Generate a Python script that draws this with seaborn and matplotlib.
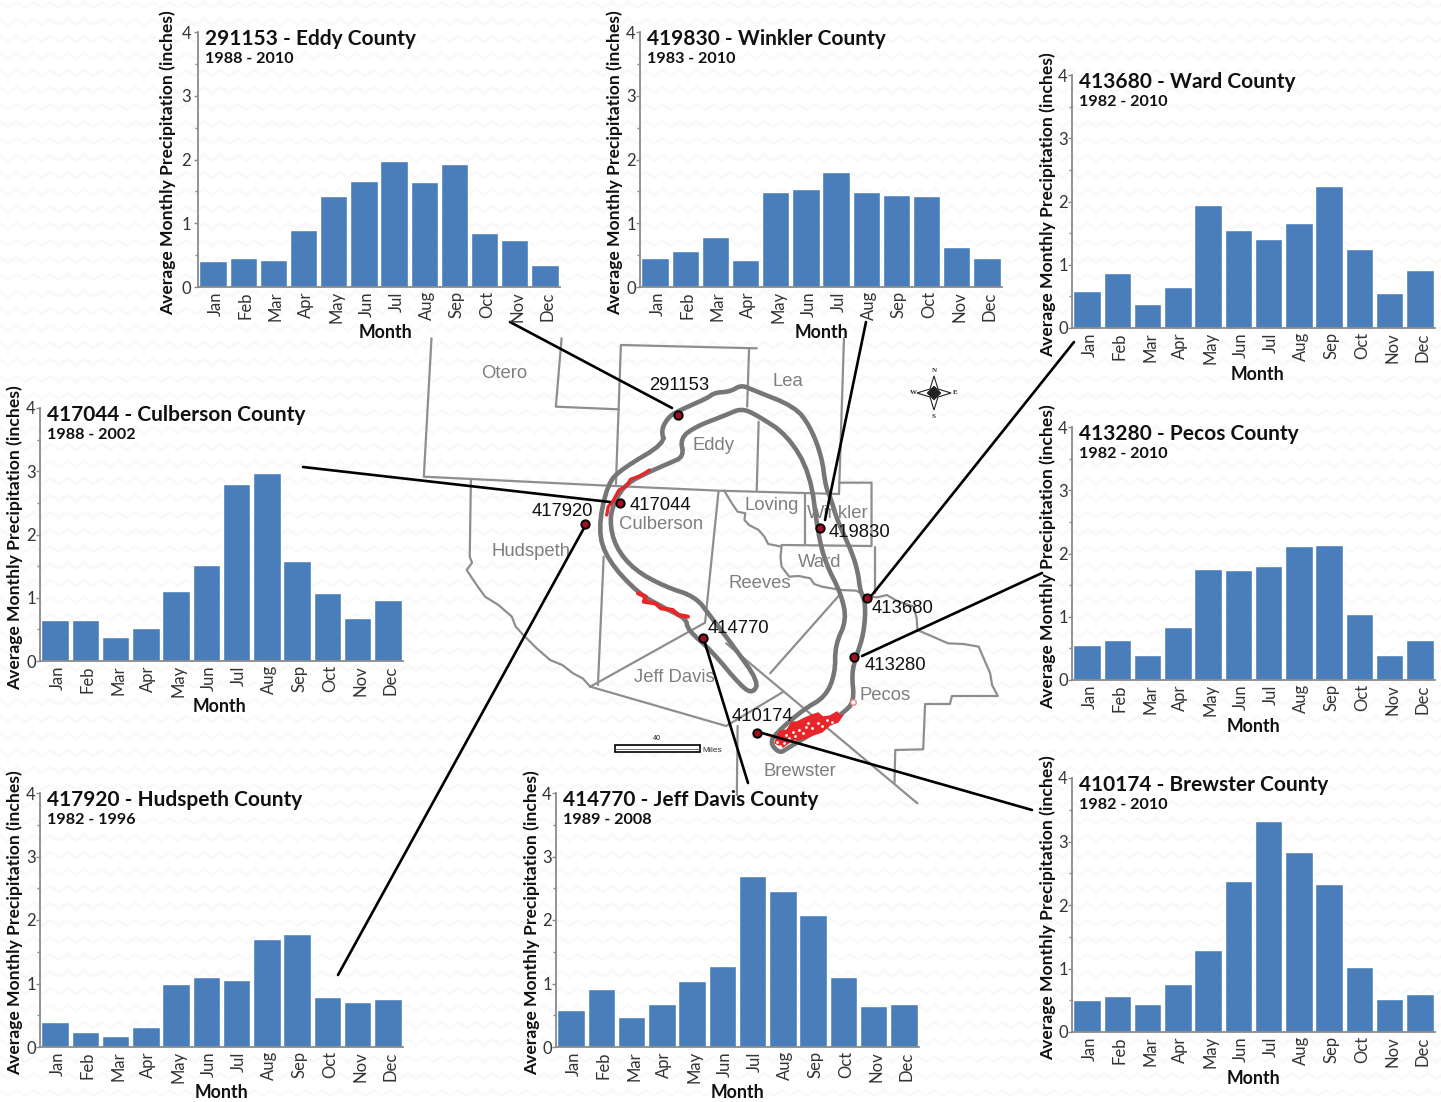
import matplotlib
matplotlib.use('Agg')
import numpy as np
import pandas as pd
import matplotlib.pyplot as plt
import seaborn as sns
from matplotlib.transforms import ScaledTranslation

W, H = 1441, 1102

months = ['Jan', 'Feb', 'Mar', 'Apr', 'May', 'Jun', 'Jul', 'Aug', 'Sep', 'Oct', 'Nov', 'Dec']

# Values -----------------------------------------------------------------------
eddy = [.41, .46, .43, .90, 1.42, 1.67, 1.98, 1.65, 1.93, .84, .73, .34]
winkler = [.45, .57, .79, .43, 1.49, 1.54, 1.80, 1.49, 1.44, 1.43, .62, .45]
ward = [.58, .87, .38, .65, 1.95, 1.55, 1.40, 1.66, 2.24, 1.25, .56, .92]
pecos = [.55, .63, .40, .84, 1.75, 1.74, 1.80, 2.12, 2.14, 1.05, .40, .64]
culberson = [.65, .65, .38, .52, 1.10, 1.51, 2.80, 2.97, 1.58, 1.07, .68, .97]
hudspeth = [.39, .24, .17, .31, .99, 1.10, 1.05, 1.70, 1.78, .79, .71, .76]
jeff_davis = [.58, .92, .47, .67, 1.04, 1.28, 2.70, 2.45, 2.08, 1.11, .65, .67]
brewster = [.51, .56, .44, .75, 1.29, 2.38, 3.33, 2.84, 2.33, 1.03, .52, .60]

# title, years, values, x0, x1, y of 0, y of 4, y label x, tick pad, Month x
panels = [
    ('291153 - Eddy County', '1988 - 2010', eddy, 198, 560, 287, 32, 168, 2, 386),
    ('419830 - Winkler County', '1983 - 2010', winkler, 640, 1002, 287, 32, 615, 0, 821),
    ('413680 - Ward County', '1982 - 2010', ward, 1072, 1435, 328, 75, 1048, 0, 1257),
    ('413280 - Pecos County', '1982 - 2010', pecos, 1072, 1435, 680, 427, 1048, 0, 1253),
    ('417044 - Culberson County', '1988 - 2002', culberson, 40, 403, 661, 408, 15, 0, 219),
    ('417920 - Hudspeth County', '1982 - 1996', hudspeth, 40, 403, 1047, 793, 15, 0, 222),
    ('414770 - Jeff Davis County', '1989 - 2008', jeff_davis, 556, 919, 1047, 793, 532, 0, 738),
    ('410174 - Brewster County', '1982 - 2010', brewster, 1072, 1435, 1032, 778, 1048, 0, 1254),
]

# Map at 2.613 x 3 zoom ---------------------------------------------------------
borders = [
    [(30, -5), (10, 410), (490, 437), (780, 452), (1095, 462)],
    [(370, -5), (355, 200), (520, 208)],
    [(525, 15), (512, 432)],
    [(525, 15), (880, 25)],
    [(860, 25), (855, 200)],
    [(1108, -5), (1095, 462)],
    [(885, 245), (880, 450)],
    [(133, 420), (130, 650), (136, 668), (122, 690), (145, 730), (170, 770), (205, 795), (240, 830), (250, 860),
     (270, 885), (305, 925), (340, 960), (372, 975), (400, 1000), (425, 1015), (445, 1040)],
    [(480, 650), (465, 1035)],
    [(780, 455), (745, 848)],
    [(445, 1040), (745, 848)],
    [(445, 1040), (800, 1158), (950, 1055)],
    [(1100, 760), (915, 1000)],
    [(800, 910), (1300, 1390)],
    [(830, 1158), (828, 1365)],
    [(795, 452), (815, 490), (830, 515), (850, 520), (848, 540), (860, 555), (885, 570), (900, 590), (910, 612),
     (945, 620), (942, 650), (945, 680), (965, 710), (990, 708), (1020, 715), (1030, 732), (1050, 740),
     (1100, 750), (1140, 752), (1170, 770), (1195, 772), (1220, 765), (1245, 782), (1290, 800), (1298, 835),
     (1300, 870), (1340, 890), (1380, 910), (1420, 912), (1460, 920), (1475, 960), (1490, 1000), (1495, 1035),
     (1510, 1068), (1390, 1068), (1385, 1092), (1320, 1092), (1315, 1228), (1242, 1230), (1240, 1330)],
    [(1005, 462), (1005, 612)],
    [(1095, 428), (1180, 428), (1180, 618), (945, 615)],
    [(1188, 620), (1188, 760)],
]
ring = [(640, 310), (630, 270), (650, 230), (680, 210), (750, 175), (770, 158), (810, 155), (840, 135),
        (870, 150), (980, 200), (1020, 260), (1050, 350), (1060, 440), (1075, 480), (1090, 540), (1130, 640),
        (1145, 700), (1150, 750), (1165, 790), (1160, 880), (1140, 950), (1128, 1000), (1135, 1085),
        (1105, 1120), (1040, 1170), (960, 1225), (940, 1240), (915, 1210), (930, 1180), (1000, 1110),
        (1060, 1070), (1085, 1000), (1085, 915), (1115, 840), (1100, 760), (1060, 670), (1040, 580),
        (1020, 400), (960, 285), (880, 225), (840, 205), (800, 225), (720, 260), (680, 295), (690, 350),
        (650, 370), (600, 395), (540, 430), (510, 480), (495, 540), (510, 620), (560, 690), (640, 740),
        (720, 770), (760, 830), (820, 920), (885, 1025), (870, 1060), (840, 1040), (760, 930), (700, 870),
        (695, 835), (640, 805), (570, 760), (490, 660), (465, 570), (490, 430), (530, 385), (640, 310)]
red_bits = [
    ([(488, 525), (492, 500), (505, 482), (520, 450), (540, 438), (550, 418), (575, 408), (600, 390)], 2.4),
    ([(570, 760), (590, 770), (585, 785), (615, 790), (630, 805), (660, 810), (675, 825), (700, 830)], 3),
]
# southern patch, in plain picture pixels
red_patch_x = [775, 783, 790, 793, 803, 813, 822, 830, 838, 843, 840, 837, 830, 823, 818, 812, 805, 797, 792, 787, 780, 777]
red_patch_y = [743, 747, 742, 740, 739, 735, 732, 725, 722, 715, 716, 712, 716, 717, 713, 715, 718, 722, 722, 730, 731, 737]
speck_x = [777, 780, 784, 786, 789, 793, 795, 799, 803, 806, 808, 812, 818, 822, 827, 832]
speck_y = [742, 746, 743, 735, 738, 732, 736, 730, 733, 727, 723, 728, 723, 726, 720, 722]
stations = [
    ('291153', 674, 225, 600, 138), ('417044', 522, 490, 548, 495), ('417920', 432, 552, 292, 516),
    ('419830', 1046, 565, 1068, 578), ('413680', 1168, 775, 1180, 806), ('413280', 1135, 952, 1162, 975),
    ('414770', 739, 893, 752, 865), ('410174', 880, 1180, 815, 1130),
]
counties = [
    ('Otero', 160, 101), ('Lea', 920, 124), ('Eddy', 712, 316), ('Loving', 848, 495), ('Winkler', 1012, 519),
    ('Culberson', 520, 553), ('Hudspeth', 188, 633), ('Ward', 988, 668), ('Reeves', 807, 730),
    ('Jeff Davis', 560, 1012), ('Pecos', 1148, 1065), ('Brewster', 898, 1296),
]
callouts = [
    ((510, 322), (672, 408)), ((866, 322), (825, 520)), ((1074, 342), (872, 595)), ((1042, 573), (862, 656)),
    ((1032, 810), (762, 733)), ((748, 783), (704, 640)), ((338, 975), (584, 528)), ((303, 467), (610, 502)),
]


def px(p):
    return 420 + p[0] * 600 / 1568, 340 + p[1] / 3


def smooth(points, rounds=2):
    # corner cutting so the ring does not look like a polygon
    pts = np.array(points, dtype=float)
    for _ in range(rounds):
        a, b = pts[:-1], pts[1:]
        pts = np.empty((len(a) * 2, 2))
        pts[0::2] = a * .75 + b * .25
        pts[1::2] = a * .25 + b * .75
        pts = np.vstack([pts, pts[0]])
    return pts


if __name__ == "__main__":

    sns.set_theme(style='white')
    plt.rcParams['font.family'] = ['Lato', 'DejaVu Sans']

    fig = plt.figure(figsize=(W / 100, H / 100), dpi=100, facecolor='white')

    # Map layer in picture pixels --------------------------------------------------
    bg = fig.add_axes([0, 0, 1, 1])
    bg.set_xlim(0, W)
    bg.set_ylim(H, 0)
    bg.axis('off')

    # faint zigzag paper texture
    zig_x = np.arange(-9, W + 17, 8.5)
    for row in range(5, H + 17, 17):
        zig_y = row + 3 * (-1.0) ** np.arange(len(zig_x))
        bg.plot(zig_x, zig_y, color='#f9f9f9', lw=2, zorder=0)

    for line in borders:
        xs, ys = zip(*[px(p) for p in line])
        bg.plot(xs, ys, color='#8e8e8e', lw=1.6, solid_joinstyle='round', zorder=1)
    xy = np.array([px(p) for p in ring])
    xy = smooth(xy)
    bg.plot(xy[:, 0], xy[:, 1], color='#767676', lw=3.3, solid_joinstyle='round', zorder=2)
    for line, lw in red_bits:
        xs, ys = zip(*[px(p) for p in line])
        bg.plot(xs, ys, color='#e8262a', lw=lw, zorder=3)
    bg.fill(red_patch_x, red_patch_y, fc='#e8262a', ec='#e8262a', lw=1, zorder=3)
    bg.scatter(speck_x, speck_y, s=4, color='white', lw=0, zorder=3)
    bg.plot(853, 702, 'o', ms=4, mfc='white', mec='#e8868a', mew=1, zorder=3)

    for name, zx, zy in counties:
        x, y = px((zx, zy))
        bg.text(x, y, name, color='#7f7f7f', fontsize=13.3, family='Liberation Sans', va='center', zorder=4)

    for start, end in callouts:
        bg.plot([start[0], end[0]], [start[1], end[1]], color='black', lw=1.9, zorder=5)

    for name, zx, zy, lx, ly in stations:
        x, y = px((zx, zy))
        bg.plot(x, y, 'o', ms=6, mfc='#a01020', mec='black', mew=1.4, zorder=6)
        x, y = px((lx, ly))
        bg.text(x, y, name, color='#111111', fontsize=13.3, family='Liberation Sans', va='center', zorder=6)

    # Scale bar and compass
    bg.fill([615, 700, 700, 615], [745, 745, 752, 752], fc='white', ec='black', lw=1.2, zorder=4)
    bg.plot([615, 700], [748.5, 748.5], color='#555555', lw=0.6, zorder=4)
    bg.text(657, 739, '40', fontsize=5.2, ha='center', va='center', family='Liberation Sans')
    bg.text(702, 750, 'Miles', fontsize=6, va='center', family='Liberation Sans', color='#333333')
    cx, cy = 934, 393
    bg.fill([cx, cx + 4, cx + 17, cx + 4, cx, cx - 4, cx - 17, cx - 4],
            [cy - 17, cy - 4, cy, cy + 4, cy + 17, cy + 4, cy, cy - 4], fc='white', ec='#222222', lw=0.8, zorder=4)
    bg.fill([cx, cx + 7, cx, cx - 7], [cy - 7, cy, cy + 7, cy], fc='#222222', ec='#222222', lw=0.5, zorder=4)
    for t, dx, dy in [('N', 0, -22), ('S', 0, 23), ('W', -21, 0), ('E', 21, 0)]:
        bg.text(cx + dx, cy + dy, t, fontsize=5, ha='center', va='center', family='Liberation Serif', weight='bold')

    # Bar panels ---------------------------------------------------------------------
    for title, years, values, x0, x1, y0, y4, ylab_x, pad, month_x in panels:
        ax = fig.add_axes([x0 / W, 1 - y0 / H, (x1 - x0) / W, (y0 - y4) / H])
        ax.patch.set_visible(False)
        df = pd.DataFrame({'month': months, 'precip': values})
        sns.barplot(data=df, x='month', y='precip', color='#4a7ebb', saturation=1, width=0.91, ax=ax)

        ax.set_xlim(-0.5, 11.5)
        ax.set_ylim(0, 4)
        sns.despine(ax=ax)
        for side in ('left', 'bottom'):
            ax.spines[side].set_color('#8a8a8a')
            ax.spines[side].set_linewidth(1.3)

        ax.set_yticks([0, 1, 2, 3, 4])
        ax.set_yticks([.5, 1.5, 2.5, 3.5], minor=True)
        ax.set_xticks([i + 0.5 for i in range(-1, 12)], minor=True)
        ax.tick_params(axis='x', which='major', length=0, pad=3, labelrotation=90, labelsize=12, labelcolor='#333333')
        ax.tick_params(axis='x', which='minor', length=2, width=1, color='#8a8a8a')
        ax.tick_params(axis='y', which='major', left=True, length=3, width=1, color='#8a8a8a', pad=pad,
                       labelsize=12, labelcolor='#333333')
        ax.tick_params(axis='y', which='minor', left=True, length=2, width=1, color='#8a8a8a')
        ax.set_xlabel('')
        ax.set_ylabel('')
        nudge = ScaledTranslation(2.5 / 100, 0, fig.dpi_scale_trans)
        for lab in ax.get_xticklabels():
            lab.set_transform(lab.get_transform() + nudge)

        bg.text(month_x, y0 + 46, 'Month', fontsize=12.8, weight='bold', color='#111111', ha='center', va='center')
        bg.text(ylab_x, (y0 + y4) / 2 + 3, 'Average Monthly Precipitation (inches)', fontsize=12.6, weight='bold',
                color='#111111', rotation=90, ha='center', va='center')
        ax.annotate(title, xy=(0, 1), xycoords='axes fraction', xytext=(5, 2.5), textcoords='offset points',
                    fontsize=15, weight='bold', color='#111111', va='top')
        ax.annotate(years, xy=(0, 1), xycoords='axes fraction', xytext=(5, -14.3), textcoords='offset points',
                    fontsize=11.6, weight='bold', color='#111111', va='top')

    fig.savefig('out.png', dpi=100, facecolor=fig.get_facecolor())
